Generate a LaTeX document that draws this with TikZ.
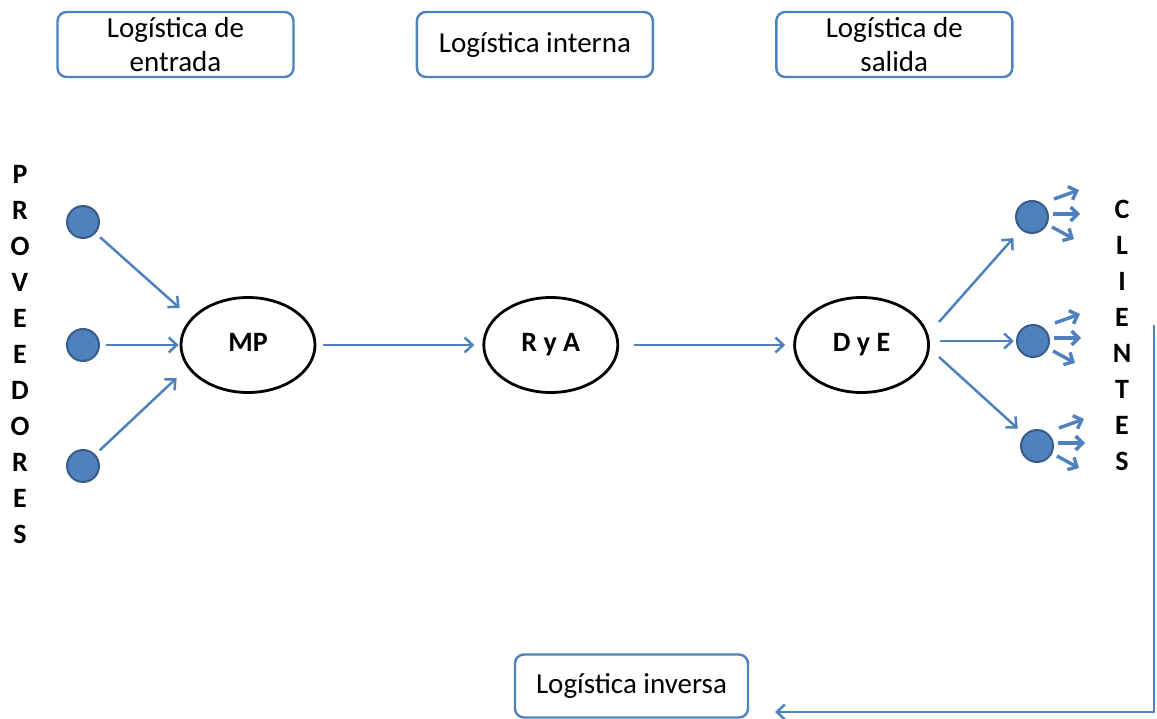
\documentclass[tikz,border=0pt]{standalone}
\usepackage{fontspec}
\setmainfont{Carlito}
\usetikzlibrary{arrows.meta, positioning, shapes.geometric}
\definecolor{officeblue}{HTML}{4F81BD}
\definecolor{dotedge}{HTML}{385D8A}

\begin{document}
\begin{tikzpicture}[
  x=1pt, y=-1pt,
  every node/.style={font=\fontsize{29}{34}\selectfont},
  block/.style={draw=officeblue, line width=2.4pt, rounded corners=9pt, minimum height=65pt, minimum width=236pt, align=center, inner sep=2pt},
  stage/.style={draw, ellipse, line width=2.8pt, minimum width=134pt, minimum height=95pt, inner sep=0pt, text height=19pt, text depth=6pt, font=\fontsize{28}{34}\selectfont\bfseries},
  dot/.style={circle, fill=officeblue, draw=dotedge, line width=2pt, minimum size=32pt, inner sep=0pt},
  letters/.style={align=center, inner sep=0pt, font=\fontsize{28}{36}\selectfont\bfseries},
  line/.style={-{Straight Barb[length=8pt, width=15pt]}, officeblue, line width=2.5pt},
  fan/.style={-{Straight Barb[length=7pt, width=14pt]}, officeblue, line width=3.4pt}
]
\useasboundingbox (0,0) rectangle (1157,719);

% stages of the chain
\node[block] (entrada) at (175.5,44.5) {Logística de\\entrada};
\node[block, right=121pt of entrada] (interna) {Logística interna};
\node[block, right=121pt of interna] (salida) {Logística de\\salida};
\node[block, minimum width=233pt, minimum height=63pt] (inversa) at (631.5,686) {Logística inversa};

\node[stage] (mp) at (248,345) {MP};
\node[stage, right=166pt of mp] (rya) {R y A};
\node[stage, right=174pt of rya] (dye) {D y E};

% suppliers and customers
\node[letters] (prov) at (20,355) {P\\R\\O\\V\\E\\E\\D\\O\\R\\E\\S};
\node[letters] (cli) at (1122,335) {C\\L\\I\\E\\N\\T\\E\\S};

\node[dot] (p1) at (83,222) {};
\node[dot] (p2) at (83,345) {};
\node[dot] (p3) at (83,466) {};

\node[dot] (c1) at (1032,217) {};
\node[dot] (c2) at (1033,341) {};
\node[dot] (c3) at (1037,446) {};

\draw[line, shorten <=6pt] (p1) -- ([yshift=37pt]mp.west);
\draw[line, shorten <=6pt, shorten >=1pt] (p2) -- (mp.west);
\draw[line, shorten <=6pt] (p3) -- ([xshift=-3pt, yshift=-33pt]mp.west);

\draw[line, shorten <=7pt, shorten >=8pt] (mp) -- (rya);
\draw[line, shorten <=15pt, shorten >=8pt] (rya) -- (dye);

\draw[line, shorten >=11pt] ([xshift=9pt, yshift=23pt]dye.east) -- (c1);
\draw[line, shorten >=2pt] ([xshift=10pt, yshift=4pt]dye.east) -- (c2);
\draw[line, shorten >=9pt] ([xshift=9pt, yshift=-12pt]dye.east) -- (c3);

% customers passing the goods on
\foreach \c in {c1,c2,c3} {
  \draw[fan] (\c) ++(22,-18) -- ++(25,-9);
  \draw[fan] (\c) ++(21,-3) -- ++(27,0);
  \draw[fan] (\c) ++(20,10) -- ++(22,12);
}

% return flow
\coordinate (retstart) at (1154,325);
\coordinate (retend) at (775,712);
\draw[line] (retstart) |- (retend);
\end{tikzpicture}
\end{document}
